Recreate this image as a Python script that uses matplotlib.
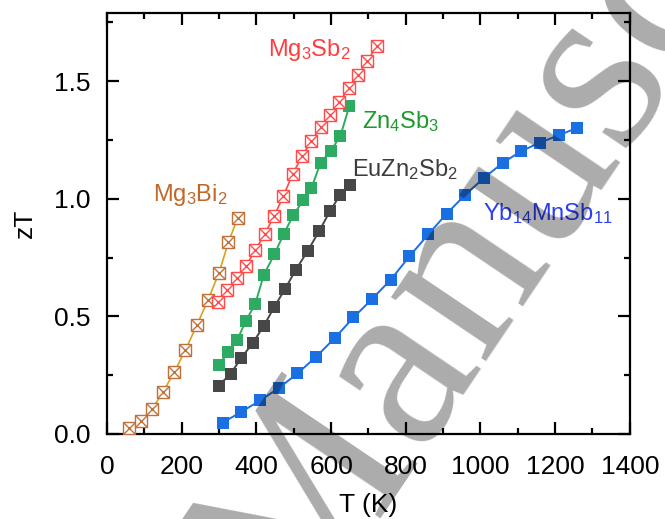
import matplotlib
matplotlib.use('Agg')
import matplotlib.pyplot as plt
from matplotlib.ticker import MultipleLocator

plt.rcParams['font.family'] = ['Liberation Sans', 'DejaVu Sans']
plt.rcParams['mathtext.fontset'] = 'custom'
plt.rcParams['mathtext.rm'] = 'Liberation Sans'
plt.rcParams['mathtext.it'] = 'Liberation Sans:italic'
plt.rcParams['xtick.labelsize'] = 19
plt.rcParams['ytick.labelsize'] = 19
plt.rcParams['axes.labelsize'] = 19
plt.rcParams['axes.linewidth'] = 1.6

# data
T_mg3bi2 = [60, 90, 120, 150, 180, 210, 240, 270, 300, 325, 350]
zt_mg3bi2 = [0.023, 0.054, 0.104, 0.178, 0.263, 0.357, 0.461, 0.568, 0.686, 0.815, 0.919]

T_mg3sb2 = [297, 322, 347, 372, 397, 422, 447, 472, 497, 522, 547, 572, 597, 622, 647, 672, 697, 722]
zt_mg3sb2 = [0.56, 0.61, 0.665, 0.715, 0.78, 0.85, 0.925, 1.01, 1.105, 1.18, 1.245, 1.305,
             1.355, 1.41, 1.47, 1.525, 1.585, 1.65]

T_zn4sb3 = [299, 325, 349, 372, 397, 420, 448, 473, 499, 525, 547, 572, 599, 625, 649]
zt_zn4sb3 = [0.294, 0.347, 0.401, 0.481, 0.553, 0.677, 0.763, 0.85, 0.93, 0.993, 1.044,
             1.153, 1.203, 1.267, 1.395]

T_euzn2sb2 = [299, 331, 359, 390, 420, 448, 477, 506, 537, 568, 597, 625, 652]
zt_euzn2sb2 = [0.205, 0.256, 0.322, 0.386, 0.46, 0.54, 0.617, 0.699, 0.777, 0.862, 0.947,
               1.018, 1.058]

T_yb14 = [310, 360, 410, 460, 510, 560, 610, 660, 710, 760, 810, 860, 910, 960, 1010,
          1060, 1110, 1160, 1210, 1260]
zt_yb14 = [0.048, 0.094, 0.142, 0.195, 0.257, 0.328, 0.408, 0.495, 0.574, 0.656, 0.755,
           0.848, 0.937, 1.018, 1.089, 1.153, 1.203, 1.239, 1.270, 1.302]

fig = plt.figure(figsize=(6.65, 5.19), dpi=100)
ax = fig.add_axes([0.161, 0.164, 0.786, 0.811])

ms = 8.2

# open square with a cross
def crossed(ax, x, y, mc, lc):
    ax.plot(x, y, '-', color=lc, lw=1.2, zorder=2)
    ax.plot(x, y, 's', ms=ms, mfc='white', mec=mc, mew=1.0, zorder=3)
    ax.plot(x, y, 'x', ms=ms, mec=mc, mew=1.0, zorder=4)

crossed(ax, T_mg3bi2, zt_mg3bi2, '#c0703a', '#d9a21c')
crossed(ax, T_mg3sb2, zt_mg3sb2, '#ff4a4a', '#ff4a4a')

ax.plot(T_zn4sb3, zt_zn4sb3, '-s', color='#2eab62', lw=1.4, ms=ms + 0.5, mew=0)
ax.plot(T_euzn2sb2, zt_euzn2sb2, '-s', color='#474747', lw=1.4, ms=ms + 0.5, mew=0)
ax.plot(T_yb14, zt_yb14, '-s', color='#1a6fe3', lw=1.4, ms=ms + 0.5, mew=0)

lab = dict(fontsize=17, ha='left', va='baseline')
ax.text(431, 1.608, r'Mg$\mathregular{_3}$Sb$\mathregular{_2}$', color='#ff3d3d', **lab)
ax.text(683, 1.301, r'Zn$\mathregular{_4}$Sb$\mathregular{_3}$', color='#1d9a2c', **lab)
ax.text(656, 1.098, r'EuZn$\mathregular{_2}$Sb$\mathregular{_2}$', color='#3c3c3c', **lab)
ax.text(123, 0.989, r'Mg$\mathregular{_3}$Bi$\mathregular{_2}$', color='#c0682a', **lab)
ax.text(1006, 0.908, r'Yb$\mathregular{_{14}}$MnSb$\mathregular{_{11}}$', color='#2b3ff2', **lab)

ax.set_xlim(0, 1400)
ax.set_ylim(0, 1.79)
ax.xaxis.set_major_locator(MultipleLocator(200))
ax.xaxis.set_minor_locator(MultipleLocator(100))
ax.yaxis.set_major_locator(MultipleLocator(0.5))
ax.yaxis.set_minor_locator(MultipleLocator(0.25))
ax.tick_params(which='both', direction='in', top=True, right=True, width=1.6)
ax.tick_params(which='major', length=8.5)
ax.tick_params(which='minor', length=4.5)
ax.tick_params(axis='x', pad=15)
ax.tick_params(axis='y', pad=12)
ax.set_xlabel('T (K)', labelpad=10)
ax.set_ylabel('zT', labelpad=12)

# watermark
fig.text(0.444, -0.225, 'Manuscript', fontsize=180, family='Liberation Serif',
         rotation=56, rotation_mode='anchor', ha='left', va='baseline',
         color='black', alpha=0.33, zorder=10)

plt.savefig('out.png', dpi=100)
